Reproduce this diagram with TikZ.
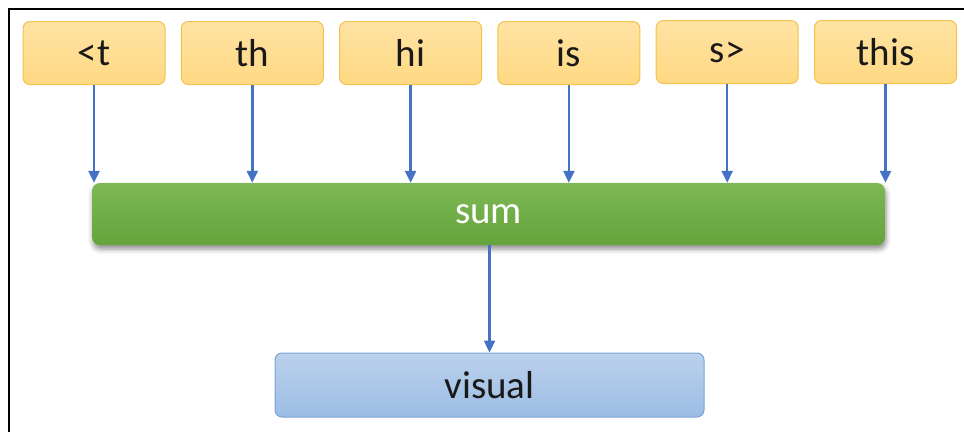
\documentclass[tikz,border=0pt]{standalone}
\usepackage{fontspec}
\setmainfont{Carlito}
\usetikzlibrary{arrows.meta,shadows.blur}

\definecolor{tokfill}{HTML}{FFD983}
\definecolor{toktop}{HTML}{FFE3A3}
\definecolor{tokline}{HTML}{F2C14E}
\definecolor{sumtop}{HTML}{7DB855}
\definecolor{sumbot}{HTML}{65A33B}
\definecolor{vistop}{HTML}{BBD1EC}
\definecolor{visbot}{HTML}{9CBDE4}
\definecolor{visline}{HTML}{7BA3D6}
\definecolor{arrowblue}{HTML}{4472C4}

\tikzset{
  label font/.style={font=\fontsize{39}{41}\selectfont},
  token/.style={rectangle, rounded corners=7pt, draw=tokline, line width=1pt,
    top color=toktop, bottom color=tokfill, minimum width=142pt,
    minimum height=63pt, inner sep=0pt, text=black!90, label font},
  sumbar/.style={rectangle, rounded corners=8pt, draw=none,
    top color=sumtop, bottom color=sumbot, minimum width=793pt,
    minimum height=62pt, inner sep=0pt, text=white, label font,
    blur shadow={shadow xshift=1pt, shadow yshift=-4pt,
      shadow blur radius=5pt, shadow opacity=45}},
  outbox/.style={rectangle, rounded corners=7pt, draw=visline, line width=1pt,
    top color=vistop, bottom color=visbot, minimum width=429pt,
    minimum height=64pt, inner sep=0pt, text=black!90, label font},
  flow/.style={draw=arrowblue, line width=2.4pt,
    -{Triangle[width=11pt,length=12pt]}},
  frame/.style={draw=black, line width=2.6pt}
}

\begin{document}
\begin{tikzpicture}[x=1pt,y=-1pt]
  \useasboundingbox (0,0) rectangle (964,432);

  % open frame: top and left edges only
  \coordinate (fa) at (964,9);
  \coordinate (fb) at (9,9);
  \coordinate (fc) at (9,432);
  \draw[frame] (fa) -- (fb) -- (fc);

  % token boxes
  \node[token] (t1) at (94,53)    {<t};
  \node[token] (t2) at (252.3,53) {th};
  \node[token] (t3) at (410.6,53) {hi};
  \node[token] (t4) at (568.9,53) {is};
  \node[token] (t5) at (727.2,52) {s>};
  \node[token] (t6) at (885.5,52) {this};

  % sum bar and output box
  \node[sumbar] (sum) at (488.5,214) {sum};
  \node[outbox] (vis) at (489.5,385) {visual};

  % connectors
  \foreach \t in {t1,t2,t3,t4,t5,t6}
    \draw[flow] (\t.south) -- (\t.south |- sum.north);
  \draw[flow] (sum.south -| vis.north) -- (vis.north);
\end{tikzpicture}
\end{document}
